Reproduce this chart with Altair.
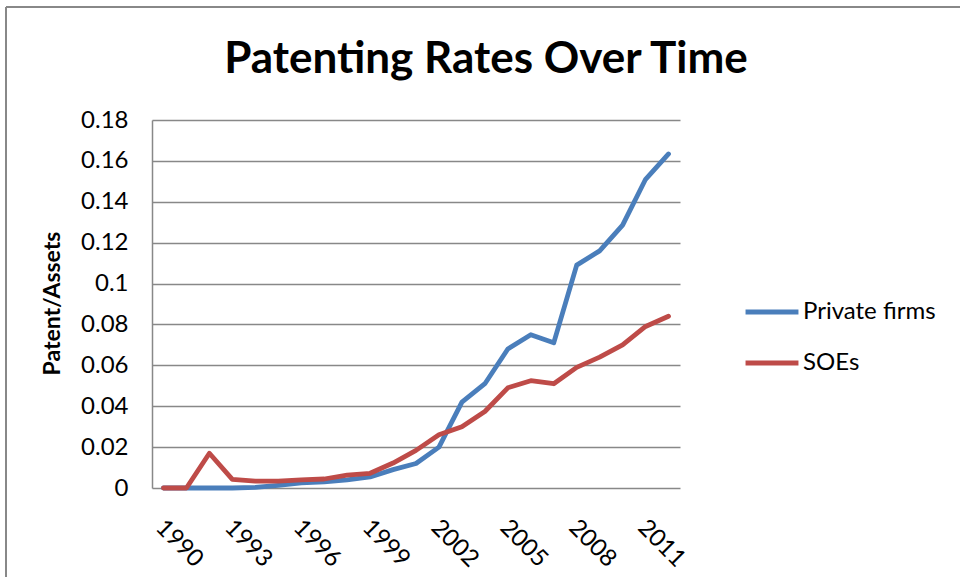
import altair as alt
import pandas as pd

years = list(range(1990, 2013))
private_firms = [0.0, 0.0, 0.0, 0.0, 0.0003, 0.0013, 0.0025, 0.003, 0.004, 0.0054,
                 0.009, 0.012, 0.020, 0.042, 0.051, 0.068, 0.075, 0.071, 0.109,
                 0.116, 0.1286, 0.151, 0.1634]
soes = [0.0, 0.0, 0.017, 0.0042, 0.0034, 0.0034, 0.004, 0.0044, 0.0063, 0.0072,
        0.0122, 0.0184, 0.026, 0.030, 0.0374, 0.049, 0.0525, 0.051, 0.059,
        0.064, 0.070, 0.079, 0.084]
series_names = ["Private firms", "SOEs"]
series_colors = ["#4A7EBB", "#BE4B48"]
x_tick_years = [1990, 1993, 1996, 1999, 2002, 2005, 2008, 2011]
y_ticks = [0, 0.02, 0.04, 0.06, 0.08, 0.1, 0.12, 0.14, 0.16, 0.18]

rows = []
for y, v in zip(years, private_firms):
    rows.append({"Year": y, "Series": series_names[0], "Value": v})
for y, v in zip(years, soes):
    rows.append({"Year": y, "Series": series_names[1], "Value": v})
df = pd.DataFrame(rows)

FONT = "Lato"
GRID = "#888888"

lines = alt.Chart(df).mark_line(strokeWidth=4.8, strokeCap="round", strokeJoin="round").encode(
    x=alt.X("Year:Q",
            scale=alt.Scale(domain=[1989.5, 2012.5], nice=False, zero=False),
            axis=alt.Axis(values=x_tick_years, format="d", title=None, grid=False,
                          ticks=False, domain=False, labelAngle=45, labelAlign="left",
                          labelBaseline="top", labelPadding=27, labelOffset=4,
                          labelFontSize=24, labelFont=FONT, labelColor="#000000")),
    y=alt.Y("Value:Q",
            scale=alt.Scale(domain=[0, 0.18], nice=False),
            axis=alt.Axis(values=y_ticks, format="~g", title="Patent/Assets",
                          grid=True, gridColor=GRID, gridWidth=1.5, ticks=False,
                          domain=True, domainColor=GRID, domainWidth=1.5,
                          labelPadding=24, labelFontSize=24, labelFont=FONT,
                          labelColor="#000000", titleFont=FONT, titleFontSize=23,
                          titleFontWeight="bold", titleColor="#000000",
                          titleX=-100, titleY=183, titleAlign="center",
                          titleBaseline="middle", titleAngle=-90)),
    color=alt.Color("Series:N",
                    scale=alt.Scale(domain=series_names, range=series_colors),
                    legend=alt.Legend(title=None, orient="none", legendX=591, legendY=163,
                                      symbolType="stroke", symbolSize=2800,
                                      symbolStrokeWidth=4.8, labelFontSize=24,
                                      labelFont=FONT, labelColor="#000000",
                                      rowPadding=10, labelOffset=2)),
)

border_top = alt.Chart(df).mark_rule(color=GRID, strokeWidth=1.5).encode(
    x=alt.value(-146), x2=alt.value(820), y=alt.value(-113))
border_left = alt.Chart(df).mark_rule(color=GRID, strokeWidth=1.5).encode(
    x=alt.value(-146), y=alt.value(-113), y2=alt.value(470))

chart = alt.layer(border_top, border_left, lines).properties(
    width=528, height=368,
    title=alt.TitleParams("Patenting Rates Over Time", font=FONT, fontSize=44,
                          fontWeight="bold", color="#000000", anchor="middle",
                          baseline="alphabetic", dx=70, dy=111, offset=0),
    autosize=alt.AutoSizeParams(type="none"),
    padding={"left": 152, "top": 120, "right": 280, "bottom": 89},
    background="#FFFFFF",
).configure_view(stroke=None)

chart.save("out.html", embed_options={"renderer": "svg", "actions": False})
